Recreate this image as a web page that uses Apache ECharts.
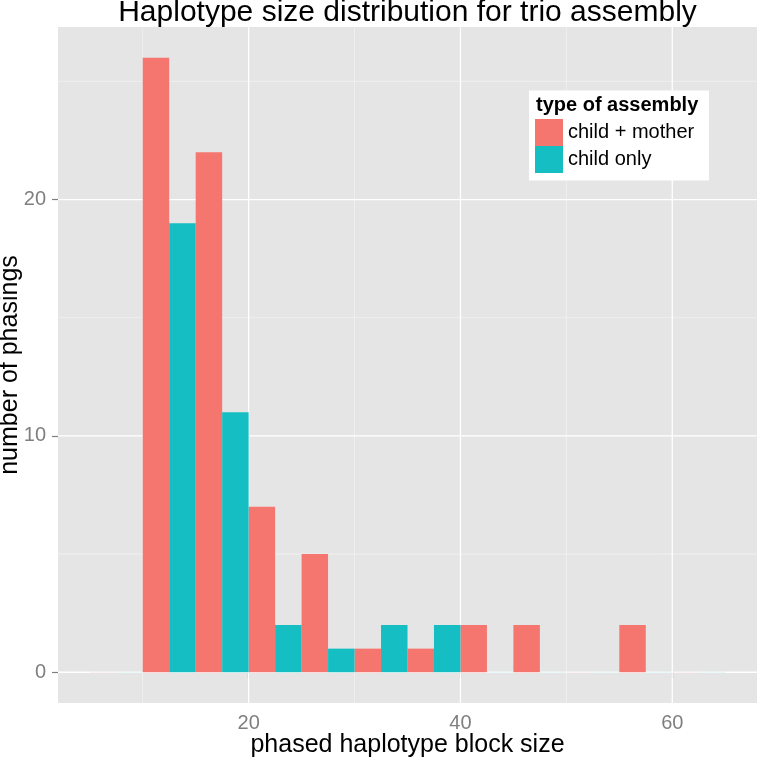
<!DOCTYPE html>
<html><head><meta charset="utf-8">
<script src="https://cdn.jsdelivr.net/npm/echarts@6/dist/echarts.min.js"></script>
<style>html,body{margin:0;padding:0;background:#fff}#c{width:758px;height:758px}</style>
</head><body><div id="c"></div>
<script>
// ---- data ----
const binStarts = [5, 10, 15, 20, 25, 30, 35, 40, 45, 50, 55, 60];
const binWidth = 5;
const childMother = [0, 26, 22, 7, 5, 1, 1, 2, 2, 0, 2, 0];
const childOnly = [0, 19, 11, 2, 1, 2, 2, 0, 0, 0, 0, 0];
const seriesNames = ['child + mother', 'child only'];
const xTicks = [20, 40, 60];
const xMinor = [10, 30, 50];
const yTicks = [0, 10, 20];
const yMinor = [5, 15, 25];
const chartTitle = 'Haplotype size distribution for trio assembly';
const xTitle = 'phased haplotype block size';
const yTitle = 'number of phasings';
const legendTitle = 'type of assembly';

// ---- styling ----
const colors = ['#F5766F', '#14BEC3'];
const X_MIN = 2, X_MAX = 68, Y_MIN = -1.3, Y_MAX = 27.3;
const FONT = 'Liberation Sans, Arial, Helvetica, sans-serif';

const chart = echarts.init(document.getElementById('c'), null, {renderer: 'canvas'});

// gridline data: [x, y, kind] kind 0=x major,1=x minor,2=y major,3=y minor
const gridData = [];
xMinor.forEach(v => gridData.push([v, 0, 1]));
yMinor.forEach(v => gridData.push([X_MIN, v, 3]));
xTicks.forEach(v => gridData.push([v, 0, 0]));
yTicks.forEach(v => gridData.push([X_MIN, v, 2]));

function gridRender(params, api) {
  const kind = api.value(2);
  const cs = params.coordSys;
  const major = kind === 0 || kind === 2;
  const style = {stroke: major ? '#FFFFFF' : '#F2F2F2', lineWidth: major ? 1.3 : 0.8};
  if (kind <= 1) {
    const p = api.coord([api.value(0), 0]);
    return {type: 'line', shape: {x1: p[0], y1: cs.y, x2: p[0], y2: cs.y + cs.height}, style};
  } else {
    const p = api.coord([X_MIN, api.value(1)]);
    return {type: 'line', shape: {x1: cs.x, y1: p[1], x2: cs.x + cs.width, y2: p[1]}, style};
  }
}

function makeBarRender(k) {
  return function (params, api) {
    const x0 = api.value(0);
    const v = api.value(1);
    const a = api.coord([x0 + k * binWidth / 2, v]);
    const b = api.coord([x0 + (k + 1) * binWidth / 2, 0]);
    const color = colors[k];
    if (v === 0) {
      return {type: 'rect', shape: {x: a[0], y: b[1] - 0.5, width: b[0] - a[0], height: 1},
        style: {fill: color, opacity: 0.12}};
    }
    return {type: 'rect', shape: {x: a[0], y: a[1], width: b[0] - a[0], height: b[1] - a[1]},
      style: {fill: color}};
  };
}

const option = {
  animation: false,
  backgroundColor: '#FFFFFF',
  textStyle: {fontFamily: FONT},
  grid: {left: 58, right: 1, top: 27, bottom: 55, show: true, backgroundColor: '#E5E5E5', borderWidth: 0},
  xAxis: {
    type: 'value', min: X_MIN, max: X_MAX,
    axisLine: {show: false},
    splitLine: {show: false},
    axisTick: {show: true, customValues: xTicks, length: 6, lineStyle: {color: '#7F7F7F', width: 1.2}},
    axisLabel: {customValues: xTicks, color: '#7F7F7F', fontSize: 20, margin: 10, fontFamily: FONT}
  },
  yAxis: {
    type: 'value', min: Y_MIN, max: Y_MAX,
    axisLine: {show: false},
    splitLine: {show: false},
    axisTick: {show: true, customValues: yTicks, length: 6, lineStyle: {color: '#7F7F7F', width: 1.2}},
    axisLabel: {customValues: yTicks, color: '#7F7F7F', fontSize: 20, margin: 12, fontFamily: FONT}
  },
  legend: {
    data: seriesNames,
    orient: 'vertical',
    left: 535, top: 119,
    padding: 0,
    itemWidth: 28, itemHeight: 27, itemGap: 0,
    icon: 'rect',
    z: 10,
    textStyle: {fontSize: 20, color: '#000', fontFamily: FONT}
  },
  graphic: [
    {type: 'rect', z: 8, shape: {x: 529, y: 90.5, width: 180, height: 90}, style: {fill: '#FFFFFF'}},
    {type: 'text', z: 9, x: 536, y: 105, style: {text: legendTitle, fontSize: 20, fontWeight: 'bold', fill: '#000', fontFamily: FONT, align: 'left', verticalAlign: 'middle'}},
    {type: 'text', x: 407.5, y: 12.7, style: {text: chartTitle, fontSize: 30, fill: '#000', fontFamily: FONT, align: 'center', verticalAlign: 'middle'}},
    {type: 'text', x: 407.5, y: 745.3, style: {text: xTitle, fontSize: 25, fill: '#000', fontFamily: FONT, align: 'center', verticalAlign: 'middle'}},
    {type: 'text', x: 9.8, y: 365, rotation: Math.PI / 2, style: {text: yTitle, fontSize: 25, fill: '#000', fontFamily: FONT, align: 'center', verticalAlign: 'middle'}}
  ],
  series: [
    {type: 'custom', name: '__grid', silent: true, renderItem: gridRender, data: gridData, encode: {x: 0, y: 1}, z: 1},
    {type: 'custom', name: seriesNames[0], itemStyle: {color: colors[0]}, renderItem: makeBarRender(0),
      data: binStarts.map((s, i) => [s, childMother[i]]), encode: {x: 0, y: 1}, z: 2, clip: true},
    {type: 'custom', name: seriesNames[1], itemStyle: {color: colors[1]}, renderItem: makeBarRender(1),
      data: binStarts.map((s, i) => [s, childOnly[i]]), encode: {x: 0, y: 1}, z: 2, clip: true}
  ]
};
chart.setOption(option);
</script>
</body></html>
